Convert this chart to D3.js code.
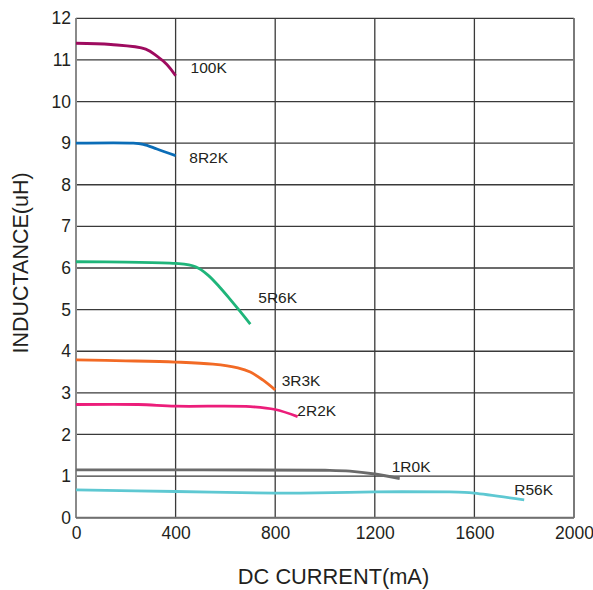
<!DOCTYPE html>
<html>
<head>
<meta charset="utf-8">
<script src="https://cdn.jsdelivr.net/npm/d3@7"></script>
<style>
  html, body { margin: 0; padding: 0; background: #fff; }
  svg { display: block; }
  text { font-family: "Liberation Sans", Arial, Helvetica, sans-serif; fill: #231f20; }
</style>
</head>
<body>
<svg id="chart" width="593" height="590"></svg>
<script>
// ---- Data ----
const xTicks = [0, 400, 800, 1200, 1600, 2000];
const yTicks = [0, 1, 2, 3, 4, 5, 6, 7, 8, 9, 10, 11, 12];
const xTitle = "DC CURRENT(mA)";
const yTitle = "INDUCTANCE(uH)";

const seriesNames = ["100K", "8R2K", "5R6K", "3R3K", "2R2K", "1R0K", "R56K"];
const seriesColors = ["#9e0b5f", "#0b6db7", "#1fb57a", "#f26a25", "#ec1d7a", "#6b6b6b", "#5ec8d2"];

// [current mA, inductance uH]
const s100K = [[0,11.40],[140,11.37],[280,11.26],[325,11.09],[365,10.89],[400,10.62]];
const s8R2K = [[0,9.00],[230,9.00],[270,8.97],[325,8.86],[400,8.70]];
const s5R6K = [[0,6.15],[200,6.14],[400,6.11],[480,6.03],[530,5.83],[580,5.52],[620,5.24],[660,4.95],[700,4.65]];
const s3R3K = [[0,3.79],[200,3.77],[400,3.74],[550,3.69],[650,3.60],[700,3.50],[750,3.31],[800,3.07]];
const s2R2K = [[0,2.72],[250,2.72],[400,2.68],[700,2.67],[800,2.60],[890,2.43]];
const s1R0K = [[0,1.15],[1000,1.14],[1100,1.12],[1200,1.05],[1300,0.94]];
const sR56K = [[0,0.67],[400,0.63],[800,0.59],[900,0.59],[1200,0.62],[1500,0.62],[1560,0.61],[1600,0.59],[1800,0.43]];
const seriesValues = [s100K, s8R2K, s5R6K, s3R3K, s2R2K, s1R0K, sR56K];

// label anchor (mA, uH) for each curve name
const labelPos = [[460,10.68],[455,8.53],[732,5.15],[826,3.16],[889,2.44],[1268,1.10],[1760,0.54]];

// ---- Chart ----
const svg = d3.select("#chart");
const x = d3.scaleLinear().domain([0, 2000]).range([76, 574]);
const y = d3.scaleLinear().domain([0, 12]).range([517.7, 18.3]);

const grid = svg.append("g");
grid.selectAll("line.h").data(yTicks).join("line")
  .attr("x1", x(0)).attr("x2", x(2000))
  .attr("y1", d => y(d)).attr("y2", d => y(d))
  .attr("stroke", "#3a3a3a").attr("stroke-width", 1.3);
grid.selectAll("line.v").data(xTicks).join("line")
  .attr("y1", y(0)).attr("y2", y(12))
  .attr("x1", d => x(d)).attr("x2", d => x(d))
  .attr("stroke", "#3a3a3a").attr("stroke-width", 1.3);
// frame
svg.append("line").attr("x1", x(0)).attr("x2", x(0)).attr("y1", y(0)).attr("y2", y(12))
  .attr("stroke", "#8a8a8a").attr("stroke-width", 2);
svg.append("line").attr("x1", x(2000)).attr("x2", x(2000)).attr("y1", y(0)).attr("y2", y(12))
  .attr("stroke", "#7a7a7a").attr("stroke-width", 2);
svg.append("line").attr("x1", x(0)).attr("x2", x(2000)).attr("y1", y(0)).attr("y2", y(0))
  .attr("stroke", "#707070").attr("stroke-width", 2);

// axes tick labels via d3 axes
const yAxis = svg.append("g").attr("transform", `translate(${x(0)},0)`)
  .call(d3.axisLeft(y).tickValues(yTicks).tickSize(0).tickPadding(5).tickFormat(d3.format("d")));
const xAxis = svg.append("g").attr("transform", `translate(0,${y(0)})`)
  .call(d3.axisBottom(x).tickValues(xTicks).tickSize(0).tickPadding(9).tickFormat(d3.format("d")));
[yAxis, xAxis].forEach(a => {
  a.select(".domain").remove();
  a.selectAll("text").attr("font-size", "17.5px").attr("fill", "#231f20")
    .attr("font-family", '"Liberation Sans", Arial, sans-serif');
});

// curves
const line = d3.line().x(d => x(d[0])).y(d => y(d[1])).curve(d3.curveCatmullRom.alpha(0.5));
svg.append("g").selectAll("path").data(seriesValues).join("path")
  .attr("d", line)
  .attr("fill", "none")
  .attr("stroke", (d, i) => seriesColors[i])
  .attr("stroke-width", 2.8)
  .attr("stroke-linecap", "butt");

// curve labels
svg.append("g").selectAll("text").data(seriesNames).join("text")
  .attr("x", (d, i) => x(labelPos[i][0]))
  .attr("y", (d, i) => y(labelPos[i][1]))
  .attr("font-size", "15.5px")
  .text(d => d);

// axis titles
svg.append("text")
  .attr("x", 333.5).attr("y", 583.5)
  .attr("text-anchor", "middle").attr("font-size", "21.8px")
  .text(xTitle);
svg.append("text")
  .attr("transform", "translate(28,263) rotate(-90)")
  .attr("text-anchor", "middle").attr("font-size", "21.5px")
  .text(yTitle);
</script>
</body>
</html>
